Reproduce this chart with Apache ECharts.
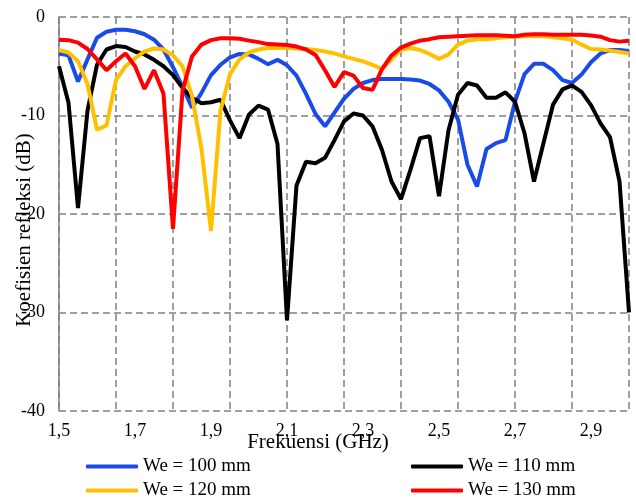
<!DOCTYPE html>
<html>
<head>
<meta charset="utf-8">
<script src="https://cdn.jsdelivr.net/npm/echarts@6/dist/echarts.min.js"></script>
<style>html,body{margin:0;padding:0;background:#fff;}#c{width:636px;height:502px;}</style>
</head>
<body>
<div id="c"></div>
<script>
const freqs = [1.5,1.525,1.55,1.575,1.6,1.625,1.65,1.675,1.7,1.725,
  1.75,1.775,1.8,1.825,1.85,1.875,1.9,1.925,1.95,1.975,
  2.0,2.025,2.05,2.075,2.1,2.125,2.15,2.175,2.2,2.225,
  2.25,2.275,2.3,2.325,2.35,2.375,2.4,2.425,2.45,2.475,
  2.5,2.525,2.55,2.575,2.6,2.625,2.65,2.675,2.7,2.725,
  2.75,2.775,2.8,2.825,2.85,2.875,2.9,2.925,2.95,2.975,3.0];
const seriesNames = ['We = 100 mm','We = 110 mm','We = 120 mm','We = 130 mm'];
const we100 = [-3.7,-3.9,-6.55,-4.3,-2.1,-1.5,-1.3,-1.3,-1.45,-1.75,
  -2.3,-3.3,-5.1,-7.1,-9.2,-7.7,-5.9,-4.85,-4.1,-3.75,
  -3.8,-4.25,-4.8,-4.35,-4.9,-5.95,-7.8,-9.85,-11.1,-9.7,
  -8.3,-7.3,-6.7,-6.4,-6.3,-6.3,-6.3,-6.35,-6.45,-6.8,
  -7.45,-8.6,-10.4,-15.0,-17.2,-13.4,-12.8,-12.5,-8.6,-5.8,
  -4.75,-4.75,-5.4,-6.4,-6.7,-5.85,-4.6,-3.7,-3.35,-3.35,-3.45];
const we110 = [-5.0,-8.7,-19.4,-9.5,-4.85,-3.3,-2.95,-3.05,-3.5,-3.8,
  -4.35,-5.0,-5.9,-7.2,-8.2,-8.75,-8.65,-8.4,-10.5,-12.3,
  -9.9,-9.0,-9.4,-12.9,-30.8,-17.1,-14.7,-14.85,-14.3,-12.5,
  -10.6,-9.8,-10.0,-11.1,-13.5,-16.7,-18.5,-15.5,-12.3,-12.1,
  -18.2,-11.5,-7.9,-6.7,-6.95,-8.2,-8.2,-7.65,-8.6,-11.8,
  -16.7,-12.8,-8.9,-7.35,-6.95,-7.6,-8.95,-10.8,-12.2,-16.7,-30.0];
const we120 = [-3.35,-3.6,-4.5,-6.8,-11.45,-11.0,-6.4,-5.0,-4.2,-3.5,
  -3.2,-3.3,-3.9,-5.0,-8.0,-13.4,-21.7,-9.5,-5.8,-4.3,
  -3.6,-3.3,-3.15,-3.15,-3.15,-3.2,-3.25,-3.35,-3.5,-3.7,
  -4.0,-4.25,-4.5,-4.85,-5.3,-4.3,-3.3,-3.15,-3.35,-3.75,
  -4.25,-3.8,-2.8,-2.4,-2.25,-2.25,-2.15,-2.05,-2.0,-1.95,
  -1.95,-1.95,-2.05,-2.15,-2.3,-2.8,-3.25,-3.3,-3.4,-3.55,-3.7];
const we130 = [-2.3,-2.35,-2.6,-3.25,-4.3,-5.4,-4.5,-3.7,-5.0,-7.3,
  -5.4,-7.8,-21.5,-7.5,-4.0,-2.8,-2.35,-2.15,-2.15,-2.2,
  -2.4,-2.55,-2.75,-2.8,-2.85,-3.0,-3.3,-3.85,-5.4,-7.1,
  -5.6,-5.95,-7.2,-7.4,-5.3,-3.9,-3.1,-2.7,-2.4,-2.25,
  -2.05,-2.0,-1.95,-1.9,-1.85,-1.85,-1.85,-1.9,-1.95,-1.8,
  -1.75,-1.75,-1.8,-1.8,-1.8,-1.8,-1.87,-2.0,-2.35,-2.5,-2.4];
const colors = ['#1A4BE6','#000000','#FFC000','#FF0000'];
const values = [we100, we110, we120, we130];

const FONT = 'Liberation Serif';
const chart = echarts.init(document.getElementById('c'), null, {renderer:'canvas'});
const legendPos = [[86,457],[411,457],[86,481],[411,481]];
const option = {
  animation: false,
  backgroundColor: '#fff',
  grid: {left: 59, right: 7, top: 17, bottom: 91, containLabel: false, outerBoundsMode: 'none'},
  xAxis: {
    type: 'category',
    data: freqs,
    boundaryGap: false,
    name: 'Frekuensi (GHz)',
    nameLocation: 'middle',
    nameGap: 21,
    nameMoveOverlap: false,
    nameTextStyle: {fontFamily: FONT, fontSize: 21, color: '#000', padding: [0, 52, 0, 0]},
    axisLine: {show: false},
    axisTick: {show: false},
    axisLabel: {
      interval: 7, margin: 11, fontFamily: FONT, fontSize: 18, color: '#000',
      formatter: v => String(v).replace('.', ',')
    },
    splitLine: {show: true, interval: 5, lineStyle: {color: '#808080', width: 1.5, type: [7, 4]}}
  },
  yAxis: {
    type: 'value',
    min: -40, max: 0, interval: 10,
    name: 'Koefisien refleksi (dB)',
    nameLocation: 'middle',
    nameRotate: 90,
    nameGap: 24,
    nameMoveOverlap: false,
    nameTextStyle: {fontFamily: FONT, fontSize: 21, color: '#000', padding: [0, 32, 0, 0]},
    axisLine: {show: true, lineStyle: {color: '#808080', width: 1.5}},
    axisTick: {show: false},
    axisLabel: {margin: 14, fontFamily: FONT, fontSize: 18, color: '#000'},
    splitLine: {show: true, lineStyle: {color: '#808080', width: 1.5, type: [7, 4]}}
  },
  legend: seriesNames.map((n, i) => ({
    data: [n], left: legendPos[i][0], top: legendPos[i][1], padding: 0,
    icon: 'roundRect', itemWidth: 52, itemHeight: 4, itemGap: 6,
    textStyle: {fontFamily: FONT, fontSize: 19, color: '#000'}
  })),
  series: seriesNames.map((n, i) => ({
    name: n, type: 'line', data: values[i],
    symbol: 'none', smooth: false,
    lineStyle: {color: colors[i], width: 4},
    itemStyle: {color: colors[i]}
  }))
};
chart.setOption(option);
</script>
</body>
</html>
